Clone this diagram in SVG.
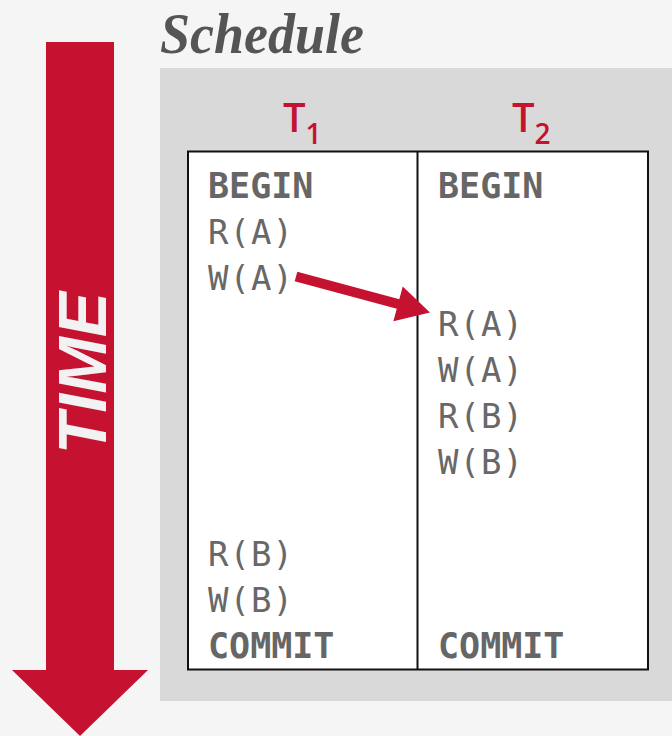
<svg xmlns="http://www.w3.org/2000/svg" width="672" height="736" viewBox="0 0 672 736">
  <style>
    .op { font-family: "DejaVu Sans Mono", "Liberation Mono", monospace; font-size: 34px; fill: #686868; letter-spacing: 1px; }
    .kw { font-family: "DejaVu Sans Mono", "Liberation Mono", monospace; font-size: 35px; font-weight: bold; fill: #666666; }
    .tx { font-family: "Open Sans", "Liberation Sans", sans-serif; font-weight: 600; fill: #c41230; }
  </style>
  <defs>
    <marker id="head" markerUnits="userSpaceOnUse" markerWidth="40" markerHeight="40" viewBox="0 -20 36 40" refX="2" refY="0" orient="auto">
      <path d="M0,-18 L33,0 L0,18 Z" fill="#c41230"/>
    </marker>
  </defs>

  <!-- page background -->
  <rect x="0" y="0" width="672" height="736" fill="#f5f5f5"/>

  <!-- time axis -->
  <g id="time-axis">
    <rect x="46" y="42" width="68" height="630" fill="#c41230"/>
    <polygon points="12,670 148,670 80,736" fill="#c41230"/>
    <text transform="translate(106,373) rotate(-90)" text-anchor="middle" font-family="'Liberation Sans', Arial, sans-serif" font-weight="bold" font-style="italic" font-size="68" fill="#f2f2f2">TIME</text>
  </g>

  <!-- title -->
  <text x="160" y="53" font-family="'Liberation Serif', 'Times New Roman', serif" font-weight="bold" font-style="italic" font-size="56" fill="#555555" textLength="204" lengthAdjust="spacingAndGlyphs">Schedule</text>

  <!-- schedule panel -->
  <g id="panel">
    <rect x="160" y="68" width="512" height="633" fill="#d9d9d9"/>
    <rect x="188" y="151.5" width="460" height="518" fill="#ffffff" stroke="#111111" stroke-width="2"/>
    <line x1="417.5" y1="151.5" x2="417.5" y2="669.5" stroke="#111111" stroke-width="2"/>
  </g>

  <!-- transaction T1 -->
  <g id="t1">
    <text class="tx" x="283" y="132" font-size="40">T<tspan font-size="28" dy="12">1</tspan></text>
    <text class="kw" x="208" y="198">BEGIN</text>
    <text class="op" x="208" y="244">R(A)</text>
    <text class="op" x="208" y="290">W(A)</text>
    <text class="op" x="208" y="566">R(B)</text>
    <text class="op" x="208" y="612">W(B)</text>
    <text class="kw" x="208" y="658">COMMIT</text>
  </g>

  <!-- transaction T2 -->
  <g id="t2">
    <text class="tx" x="512" y="132" font-size="40">T<tspan font-size="28" dy="12">2</tspan></text>
    <text class="kw" x="438" y="198">BEGIN</text>
    <text class="op" x="438" y="336">R(A)</text>
    <text class="op" x="438" y="382">W(A)</text>
    <text class="op" x="438" y="428">R(B)</text>
    <text class="op" x="438" y="474">W(B)</text>
    <text class="kw" x="438" y="658">COMMIT</text>
  </g>

  <!-- dependency -->
  <g id="connectors">
    <line x1="296" y1="276.5" x2="400" y2="304.5" stroke="#c41230" stroke-width="10" marker-end="url(#head)"/>
  </g>
</svg>
